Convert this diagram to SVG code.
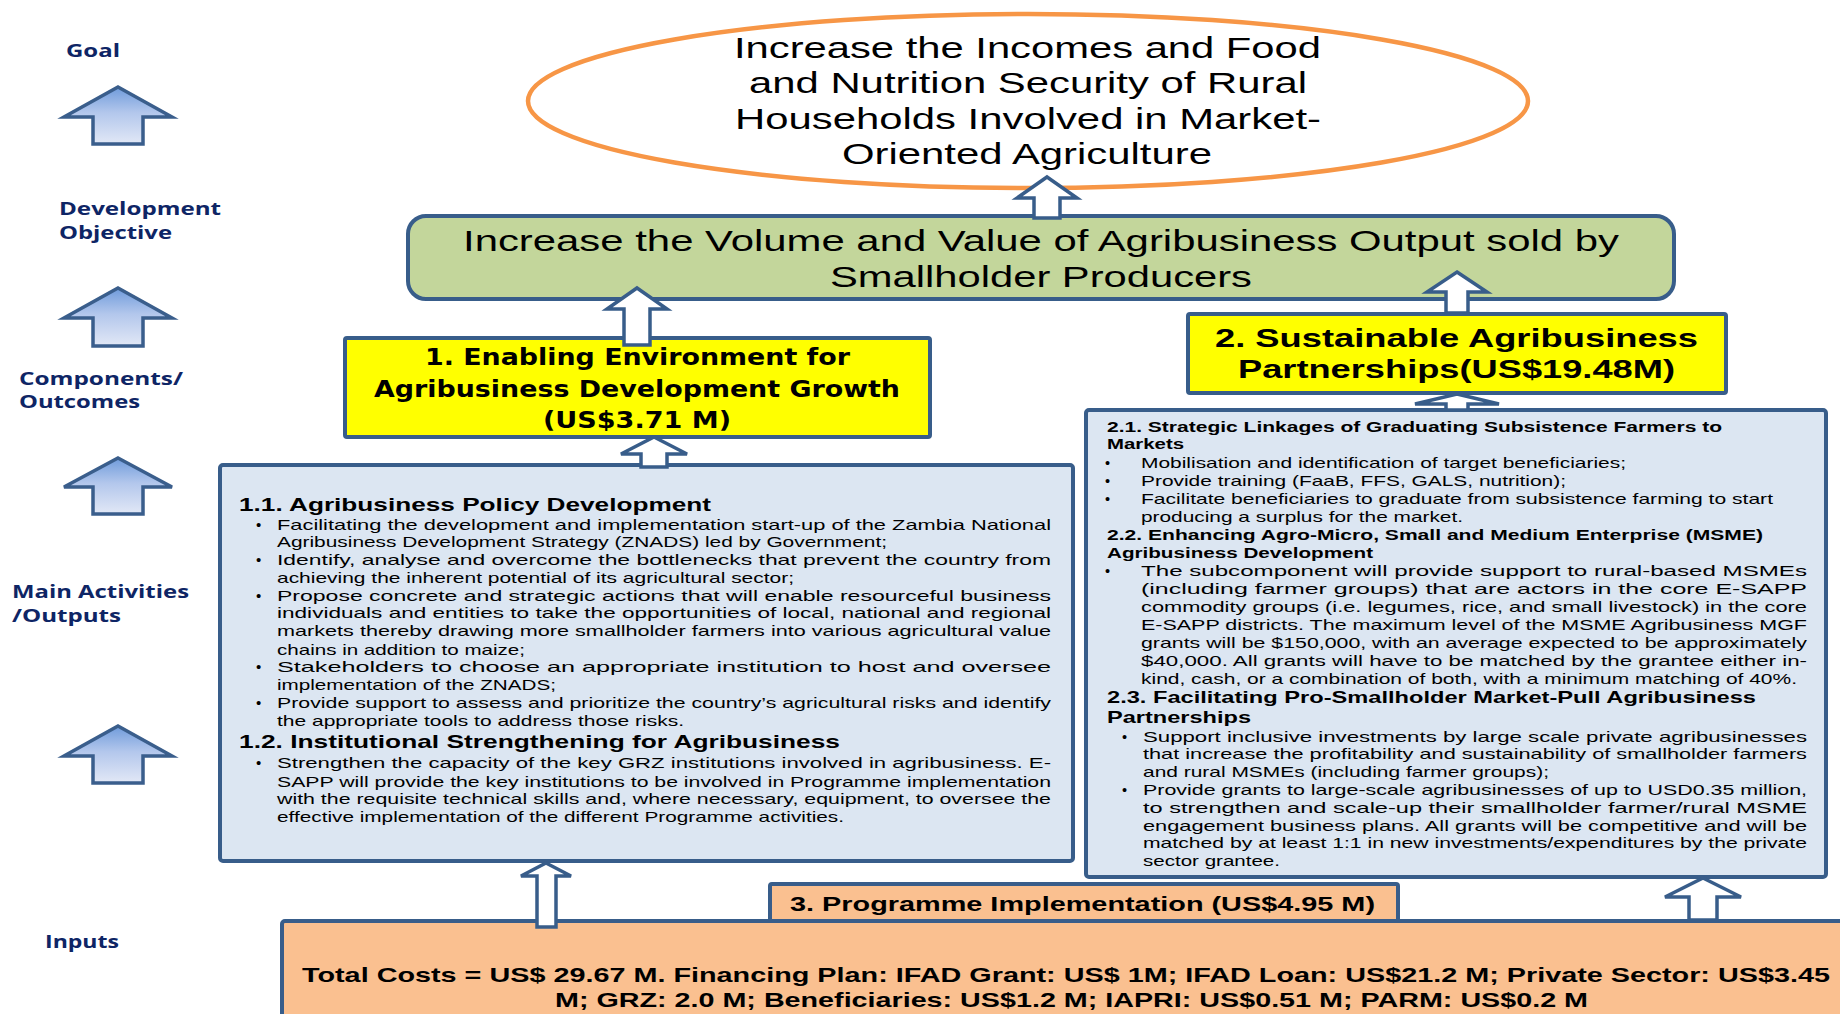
<svg xmlns="http://www.w3.org/2000/svg" width="1840" height="1014" viewBox="0 0 1840 1014">
  <defs>
    <linearGradient id="levelFill" x1="0" y1="0" x2="0" y2="1">
      <stop offset="0" stop-color="#6F9BDB"/>
      <stop offset="0.45" stop-color="#B3C7EC"/>
      <stop offset="1" stop-color="#E2E8F6"/>
    </linearGradient>
    <style>
      .lbl { font-family: "Open Sans", "DejaVu Sans", sans-serif; font-weight: 700; font-size: 18.5px; fill: #0E2565; }
      .box { stroke: #385D8A; stroke-width: 4; }
      .hollow { fill: #FFFFFF; stroke: #385D8A; stroke-width: 3.5; stroke-linejoin: miter; }
      .level { fill: url(#levelFill); stroke: #3A5E8C; stroke-width: 3.5; }
      .sans { font-family: "Liberation Sans", Arial, sans-serif; fill: #000000; }
      .goal { font-size: 29px; }
      .obj { font-size: 30px; }
      .c1 { font-family: "DejaVu Sans", Verdana, sans-serif; font-weight: 700; font-size: 23px; fill: #000000; }
      .c2 { font-weight: 700; font-size: 25px; }
      .h1 { font-weight: 700; font-size: 19px; }
      .b1 { font-size: 15px; }
      .h2 { font-weight: 700; font-size: 14.5px; }
      .h3 { font-weight: 700; font-size: 17px; }
      .b2 { font-size: 14.5px; }
      .c3 { font-weight: 700; font-size: 21px; }
      .tot { font-weight: 700; font-size: 20.5px; }
    </style>
  </defs>

  <!-- Level labels down the left side -->
  <g id="level-labels">
    <text class="lbl" x="66" y="57" textLength="54" lengthAdjust="spacingAndGlyphs">Goal</text>
    <text class="lbl" x="59" y="215" textLength="162" lengthAdjust="spacingAndGlyphs">Development</text>
    <text class="lbl" x="59" y="239" textLength="113" lengthAdjust="spacingAndGlyphs">Objective</text>
    <text class="lbl" x="19" y="385" textLength="164" lengthAdjust="spacingAndGlyphs">Components/</text>
    <text class="lbl" x="19" y="408" textLength="121" lengthAdjust="spacingAndGlyphs">Outcomes</text>
    <text class="lbl" x="12" y="598" textLength="177" lengthAdjust="spacingAndGlyphs">Main Activities</text>
    <text class="lbl" x="12" y="622" textLength="109" lengthAdjust="spacingAndGlyphs">/Outputs</text>
    <text class="lbl" x="45" y="948" textLength="74" lengthAdjust="spacingAndGlyphs">Inputs</text>
  </g>

  <!-- Block arrows between the levels -->
  <g id="level-arrows">
    <polygon class="level" points="118,87 172,117 143,117 143,144 93,144 93,117 64,117"/>
    <polygon class="level" points="118,288 172,318 143,318 143,346 93,346 93,318 64,318"/>
    <polygon class="level" points="118,458 172,487 143,487 143,514 93,514 93,487 64,487"/>
    <polygon class="level" points="118,726 172,756 143,756 143,783 93,783 93,756 64,756"/>
  </g>

  <!-- Goal -->
  <g id="goal">
    <ellipse cx="1028" cy="101" rx="500" ry="87" fill="#FFFFFF" stroke="#F79646" stroke-width="4.5"/>
    <g class="sans goal">
      <text x="734" y="58" textLength="587" lengthAdjust="spacingAndGlyphs">Increase the Incomes and Food</text>
      <text x="749" y="93" textLength="558" lengthAdjust="spacingAndGlyphs">and Nutrition Security of Rural</text>
      <text x="735" y="129" textLength="586" lengthAdjust="spacingAndGlyphs">Households Involved in Market-</text>
      <text x="842" y="164" textLength="370" lengthAdjust="spacingAndGlyphs">Oriented Agriculture</text>
    </g>
  </g>

  <!-- Development objective -->
  <g id="development-objective">
    <rect class="box" x="408" y="216" width="1266" height="83" rx="18" fill="#C3D69B"/>
    <g class="sans obj">
      <text x="463" y="251" textLength="1156" lengthAdjust="spacingAndGlyphs">Increase the Volume and Value of Agribusiness Output sold by</text>
      <text x="830" y="287" textLength="422" lengthAdjust="spacingAndGlyphs">Smallholder Producers</text>
    </g>
  </g>

  <!-- Component 1 -->
  <g id="component-1">
    <rect class="box" x="345" y="338" width="585" height="99" rx="2" fill="#FFFF00"/>
    <text class="c1" x="425" y="365" textLength="425" lengthAdjust="spacingAndGlyphs">1. Enabling Environment for</text>
    <text class="c1" x="374" y="397" textLength="526" lengthAdjust="spacingAndGlyphs">Agribusiness Development Growth</text>
    <text class="c1" x="543" y="428" textLength="188" lengthAdjust="spacingAndGlyphs">(US$3.71 M)</text>
  </g>

  <!-- Component 2 -->
  <g id="component-2">
    <rect class="box" x="1188" y="314" width="538" height="79" rx="2" fill="#FFFF00"/>
    <g class="sans c2">
      <text x="1215" y="347" textLength="483" lengthAdjust="spacingAndGlyphs">2. Sustainable Agribusiness</text>
      <text x="1238" y="378" textLength="437" lengthAdjust="spacingAndGlyphs">Partnerships(US$19.48M)</text>
    </g>
  </g>

  <!-- Activities of component 1 -->
  <g id="activities-1">
    <rect class="box" x="220" y="465" width="853" height="396" rx="3" fill="#DCE6F2"/>
    <g class="sans">
      <text class="h1" x="239" y="511" textLength="472" lengthAdjust="spacingAndGlyphs">1.1. Agribusiness Policy Development</text>
      <g class="b1">
        <text x="256" y="530">•</text>
        <text x="277" y="530" textLength="774" lengthAdjust="spacingAndGlyphs">Facilitating the development and implementation start-up of the Zambia National</text>
        <text x="277" y="547" textLength="610" lengthAdjust="spacingAndGlyphs">Agribusiness Development Strategy (ZNADS) led by Government;</text>
        <text x="256" y="565">•</text>
        <text x="277" y="565" textLength="774" lengthAdjust="spacingAndGlyphs">Identify, analyse and overcome the bottlenecks that prevent the country from</text>
        <text x="277" y="583" textLength="517" lengthAdjust="spacingAndGlyphs">achieving the inherent potential of its agricultural sector;</text>
        <text x="256" y="601">•</text>
        <text x="277" y="601" textLength="774" lengthAdjust="spacingAndGlyphs">Propose concrete and strategic actions that will enable resourceful business</text>
        <text x="277" y="618" textLength="774" lengthAdjust="spacingAndGlyphs">individuals and entities to take the opportunities of local, national and regional</text>
        <text x="277" y="636" textLength="774" lengthAdjust="spacingAndGlyphs">markets thereby drawing more smallholder farmers into various agricultural value</text>
        <text x="277" y="655" textLength="248" lengthAdjust="spacingAndGlyphs">chains in addition to maize;</text>
        <text x="256" y="672">•</text>
        <text x="277" y="672" textLength="774" lengthAdjust="spacingAndGlyphs">Stakeholders to choose an appropriate institution to host and oversee</text>
        <text x="277" y="690" textLength="279" lengthAdjust="spacingAndGlyphs">implementation of the ZNADS;</text>
        <text x="256" y="708">•</text>
        <text x="277" y="708" textLength="774" lengthAdjust="spacingAndGlyphs">Provide support to assess and prioritize the country’s agricultural risks and identify</text>
        <text x="277" y="726" textLength="407" lengthAdjust="spacingAndGlyphs">the appropriate tools to address those risks.</text>
      </g>
      <text class="h1" x="239" y="748" textLength="601" lengthAdjust="spacingAndGlyphs">1.2. Institutional Strengthening for Agribusiness</text>
      <g class="b1">
        <text x="256" y="768">•</text>
        <text x="277" y="768" textLength="774" lengthAdjust="spacingAndGlyphs">Strengthen the capacity of the key GRZ institutions involved in agribusiness. E-</text>
        <text x="277" y="787" textLength="774" lengthAdjust="spacingAndGlyphs">SAPP will provide the key institutions to be involved in Programme implementation</text>
        <text x="277" y="804" textLength="774" lengthAdjust="spacingAndGlyphs">with the requisite technical skills and, where necessary, equipment, to oversee the</text>
        <text x="277" y="822" textLength="567" lengthAdjust="spacingAndGlyphs">effective implementation of the different Programme activities.</text>
      </g>
    </g>
  </g>

  <!-- Activities of component 2 -->
  <g id="activities-2">
    <rect class="box" x="1086" y="410" width="740" height="467" rx="3" fill="#DCE6F2"/>
    <g class="sans">
      <text class="h2" x="1107" y="432" textLength="615" lengthAdjust="spacingAndGlyphs">2.1. Strategic Linkages of Graduating Subsistence Farmers to</text>
      <text class="h2" x="1107" y="449" textLength="77" lengthAdjust="spacingAndGlyphs">Markets</text>
      <g class="b2">
        <text x="1105" y="468">•</text>
        <text x="1141" y="468" textLength="485" lengthAdjust="spacingAndGlyphs">Mobilisation and identification of target beneficiaries;</text>
        <text x="1105" y="486">•</text>
        <text x="1141" y="486" textLength="425" lengthAdjust="spacingAndGlyphs">Provide training (FaaB, FFS, GALS, nutrition);</text>
        <text x="1105" y="504">•</text>
        <text x="1141" y="504" textLength="632" lengthAdjust="spacingAndGlyphs">Facilitate beneficiaries to graduate from subsistence farming to start</text>
        <text x="1141" y="522" textLength="322" lengthAdjust="spacingAndGlyphs">producing a surplus for the market.</text>
      </g>
      <text class="h2" x="1107" y="540" textLength="656" lengthAdjust="spacingAndGlyphs">2.2. Enhancing Agro-Micro, Small and Medium Enterprise (MSME)</text>
      <text class="h2" x="1107" y="558" textLength="266" lengthAdjust="spacingAndGlyphs">Agribusiness Development</text>
      <g class="b2">
        <text x="1105" y="576">•</text>
        <text x="1141" y="576" textLength="666" lengthAdjust="spacingAndGlyphs">The subcomponent will provide support to rural-based MSMEs</text>
        <text x="1141" y="594" textLength="666" lengthAdjust="spacingAndGlyphs">(including farmer groups) that are actors in the core E-SAPP</text>
        <text x="1141" y="612" textLength="666" lengthAdjust="spacingAndGlyphs">commodity groups (i.e. legumes, rice, and small livestock) in the core</text>
        <text x="1141" y="630" textLength="666" lengthAdjust="spacingAndGlyphs">E-SAPP districts. The maximum level of the MSME Agribusiness MGF</text>
        <text x="1141" y="648" textLength="666" lengthAdjust="spacingAndGlyphs">grants will be $150,000, with an average expected to be approximately</text>
        <text x="1141" y="666" textLength="666" lengthAdjust="spacingAndGlyphs">$40,000.  All grants will have to be matched by the grantee either in-</text>
        <text x="1141" y="684" textLength="656" lengthAdjust="spacingAndGlyphs">kind, cash, or a combination of both, with a minimum matching of 40%.</text>
      </g>
      <text class="h3" x="1107" y="703" textLength="649" lengthAdjust="spacingAndGlyphs">2.3. Facilitating Pro-Smallholder Market-Pull Agribusiness</text>
      <text class="h3" x="1107" y="723" textLength="144" lengthAdjust="spacingAndGlyphs">Partnerships</text>
      <g class="b2">
        <text x="1122" y="742">•</text>
        <text x="1143" y="742" textLength="664" lengthAdjust="spacingAndGlyphs">Support inclusive investments by large scale private agribusinesses</text>
        <text x="1143" y="759" textLength="664" lengthAdjust="spacingAndGlyphs">that increase the profitability and sustainability of smallholder farmers</text>
        <text x="1143" y="777" textLength="406" lengthAdjust="spacingAndGlyphs">and rural MSMEs (including farmer groups);</text>
        <text x="1122" y="795">•</text>
        <text x="1143" y="795" textLength="664" lengthAdjust="spacingAndGlyphs">Provide grants to large-scale agribusinesses of up to USD0.35 million,</text>
        <text x="1143" y="813" textLength="664" lengthAdjust="spacingAndGlyphs">to strengthen and scale-up their smallholder farmer/rural MSME</text>
        <text x="1143" y="831" textLength="664" lengthAdjust="spacingAndGlyphs">engagement business plans. All grants will be competitive and will be</text>
        <text x="1143" y="848" textLength="664" lengthAdjust="spacingAndGlyphs">matched by at least 1:1 in new investments/expenditures by the private</text>
        <text x="1143" y="866" textLength="137" lengthAdjust="spacingAndGlyphs">sector grantee.</text>
      </g>
    </g>
  </g>

  <!-- Component 3 -->
  <g id="component-3">
    <rect class="box" x="770" y="884" width="628" height="37" rx="2" fill="#FAC090"/>
    <text class="sans c3" x="790" y="911" textLength="585" lengthAdjust="spacingAndGlyphs">3. Programme Implementation (US$4.95 M)</text>
  </g>

  <!-- Inputs -->
  <g id="inputs">
    <rect class="box" x="282" y="921" width="1580" height="110" rx="3" fill="#FAC090"/>
    <g class="sans tot">
      <text x="302" y="982" textLength="1528" lengthAdjust="spacingAndGlyphs">Total Costs = US$ 29.67 M. Financing Plan: IFAD Grant: US$ 1M; IFAD Loan: US$21.2 M; Private Sector: US$3.45</text>
      <text x="555" y="1007" textLength="1033" lengthAdjust="spacingAndGlyphs">M; GRZ: 2.0 M; Beneficiaries: US$1.2 M; IAPRI: US$0.51 M; PARM: US$0.2 M</text>
    </g>
  </g>

  <!-- Hollow up-arrows linking the nodes -->
  <g id="connectors">
    <polygon class="hollow" points="1047,177 1077,198 1060,198 1060,218 1034,218 1034,198 1017,198"/>
    <polygon class="hollow" points="637,288 667,309 650,309 650,345 624,345 624,309 607,309"/>
    <polygon class="hollow" points="1457,272 1487,292 1468,292 1468,313 1446,313 1446,292 1427,292"/>
    <polygon class="hollow" points="654,437 687,454 667,454 667,467 641,467 641,454 621,454"/>
    <polygon class="hollow" points="1457,394 1499,404 1468,404 1468,410 1446,410 1446,404 1415,404"/>
    <polygon class="hollow" points="546,863 571,876 556,876 556,927 537,927 537,876 521,876"/>
    <polygon class="hollow" points="1703,878 1741,897 1717,897 1717,920 1689,920 1689,897 1665,897"/>
  </g>
</svg>
